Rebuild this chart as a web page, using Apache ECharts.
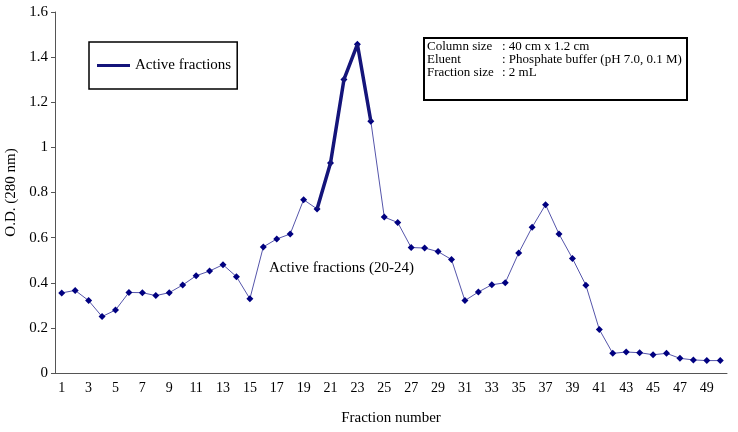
<!DOCTYPE html>
<html>
<head>
<meta charset="utf-8">
<script src="https://cdn.jsdelivr.net/npm/echarts@6/dist/echarts.min.js"></script>
<style>
  html, body { margin: 0; padding: 0; background: #fff; }
  #chart { width: 738px; height: 432px; }
</style>
</head>
<body>
<div id="chart"></div>
<script>
const fractions = ['1','2','3','4','5','6','7','8','9','10','11','12','13','14','15','16','17','18','19','20',
  '21','22','23','24','25','26','27','28','29','30','31','32','33','34','35','36','37','38','39','40',
  '41','42','43','44','45','46','47','48','49','50'];
const odValues = [0.355,0.366,0.321,0.250,0.279,0.357,0.356,0.343,0.356,0.390,
  0.431,0.452,0.480,0.427,0.329,0.559,0.594,0.616,0.768,0.727,
  0.931,1.301,1.457,1.116,0.691,0.667,0.556,0.554,0.538,0.503,
  0.321,0.359,0.391,0.400,0.532,0.646,0.746,0.616,0.508,0.389,
  0.193,0.087,0.093,0.090,0.081,0.087,0.065,0.058,0.055,0.055];
const activeFirst = 20;
const activeLast = 24;
const infoLabels = ['Column size', 'Eluent', 'Fraction size'];
const infoValues = [': 40 cm x 1.2 cm', ': Phosphate buffer (pH 7.0, 0.1 M)', ': 2 mL'];
const noteText = 'Active fractions (20-24)';

const font = 'Liberation Serif';

// thick segment only over the active fractions
const activeValues = odValues.map((v, i) => (i + 1 >= activeFirst && i + 1 <= activeLast) ? v : null);

const graphics = [
  { type: 'rect', left: 423, top: 37, z: 10,
    shape: { width: 263, height: 62 },
    style: { fill: '#fff', stroke: '#000', lineWidth: 2 } },
  { type: 'text', left: 269, top: 261, z: 10,
    style: { text: noteText, font: '15px ' + font, fill: '#000' } }
];
infoLabels.forEach((t, i) => {
  graphics.push({ type: 'text', x: 427, y: 40.5 + i * 13, z: 11,
    style: { text: t, font: '13px ' + font, fill: '#000' } });
  graphics.push({ type: 'text', x: 502, y: 40.5 + i * 13, z: 11,
    style: { text: infoValues[i], font: '13px ' + font, fill: '#000' } });
});

const chart = echarts.init(document.getElementById('chart'));
chart.setOption({
  animation: false,
  textStyle: { fontFamily: font },
  grid: { left: 55, right: 11, top: 12, bottom: 59, outerBoundsMode: 'none' },
  legend: {
    data: ['Active fractions'],
    left: 89, top: 42,
    orient: 'vertical',
    icon: 'rect',
    itemWidth: 33, itemHeight: 3, itemGap: 5,
    padding: [16, 6, 16, 8],
    borderColor: '#000', borderWidth: 1.5,
    textStyle: { fontFamily: font, fontSize: 15, color: '#000' }
  },
  xAxis: {
    type: 'category',
    data: fractions,
    boundaryGap: true,
    name: 'Fraction number',
    nameLocation: 'middle',
    nameGap: 38,
    nameTextStyle: { fontFamily: font, fontSize: 15, color: '#000' },
    axisLine: { lineStyle: { color: '#555' } },
    axisTick: { interval: 0, length: 4, lineStyle: { color: '#555' } },
    axisLabel: { interval: 1, margin: 8, fontFamily: font, fontSize: 14, color: '#000' },
    splitLine: { show: false }
  },
  yAxis: {
    type: 'value',
    min: 0, max: 1.6, interval: 0.2,
    name: 'O.D. (280 nm)',
    nameLocation: 'middle',
    nameGap: 34,
    nameTextStyle: { fontFamily: font, fontSize: 15, color: '#000' },
    axisLine: { show: true, lineStyle: { color: '#555' } },
    axisTick: { show: true, length: 4, lineStyle: { color: '#555' } },
    axisLabel: { margin: 7, fontFamily: font, fontSize: 15, color: '#000' },
    splitLine: { show: false }
  },
  graphic: graphics,
  series: [
    {
      name: 'O.D.',
      type: 'line',
      data: odValues,
      z: 3,
      symbol: 'diamond',
      symbolSize: 7,
      itemStyle: { color: '#000080' },
      lineStyle: { color: '#5555aa', width: 1 }
    },
    {
      name: 'Active fractions',
      type: 'line',
      data: activeValues,
      z: 4,
      symbol: 'none',
      connectNulls: false,
      itemStyle: { color: '#14147a' },
      lineStyle: { color: '#14147a', width: 3.5 }
    }
  ]
});
</script>
</body>
</html>
